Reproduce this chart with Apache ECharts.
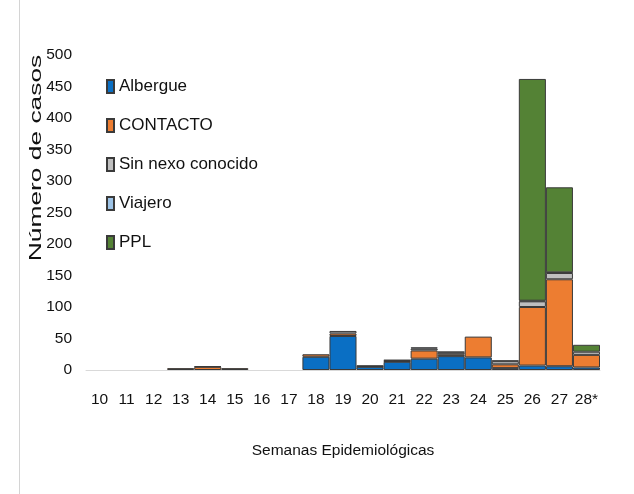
<!DOCTYPE html>
<html>
<head>
<meta charset="utf-8">
<script src="https://cdn.jsdelivr.net/npm/echarts@6/dist/echarts.min.js"></script>
<style>
  html, body { margin: 0; padding: 0; background: #fff; }
  #chart { width: 634px; height: 494px; }
</style>
</head>
<body>
<div id="chart"></div>
<script>
// Epidemiological weeks and weekly case counts by source of infection
const weeks = ['10','11','12','13','14','15','16','17','18','19','20','21','22','23','24','25','26','27','28*'];
const albergue  = [0,0,0,0,0,0,0,0,21,54,5,13,18,22,20,3,7,6,4];
const contacto  = [0,0,0,3,5,3,0,0,4,4,1,1,13,3,33,6,93,138,20];
const sinNexo   = [0,0,0,0,1,0,0,0,0,4,0,1,3,3,0,5,9,10,5];
const viajero   = [0,0,0,0,0,0,0,0,0,0,1,1,2,1,0,1,1,1,0];
const ppl       = [0,0,0,0,0,0,0,0,0,0,0,0,0,0,0,0,352,135,11];

const seriesDefs = [
  { name: 'Albergue', data: albergue, color: '#0a6fc4' },
  { name: 'CONTACTO', data: contacto, color: '#ed7d31' },
  { name: 'Sin nexo conocido', data: sinNexo, color: '#bfbfbf' },
  { name: 'Viajero', data: viajero, color: '#9dc3e6' },
  { name: 'PPL', data: ppl, color: '#548235' }
];

const FONT = '"Liberation Sans", Arial, sans-serif';
const TEXT = '#111111';

const chart = echarts.init(document.getElementById('chart'), null, { renderer: 'canvas' });

chart.setOption({
  animation: false,
  backgroundColor: '#ffffff',
  grid: { left: 86, right: 34, top: 55, bottom: 124, containLabel: false },
  legend: {
    orient: 'vertical',
    left: 101,
    top: 73,
    itemWidth: 7,
    itemHeight: 13,
    itemGap: 22,
    icon: 'rect',
    selectedMode: false,
    textStyle: { fontFamily: FONT, fontSize: 17, lineHeight: 17, color: TEXT },
    data: seriesDefs.map(s => s.name)
  },
  xAxis: {
    type: 'category',
    data: weeks,
    boundaryGap: true,
    axisTick: { show: false },
    axisLine: { lineStyle: { color: '#d9d9d9', width: 1 } },
    axisLabel: { interval: 0, margin: 22, fontFamily: FONT, fontSize: 15.5, color: TEXT },
    name: 'Semanas Epidemiológicas',
    nameLocation: 'middle',
    nameGap: 73,
    nameTextStyle: { fontFamily: FONT, fontSize: 15.5, color: TEXT }
  },
  yAxis: {
    type: 'value',
    min: 0,
    max: 500,
    interval: 50,
    axisLine: { show: false },
    axisTick: { show: false },
    splitLine: { show: false },
    axisLabel: { margin: 14, fontFamily: FONT, fontSize: 15.5, color: TEXT }
  },
  series: seriesDefs.map(s => ({
    name: s.name,
    type: 'bar',
    stack: 'casos',
    barCategoryGap: '0%',
    data: s.data.map(v => (v === 0 ? null : v)),
    itemStyle: { color: s.color, borderColor: '#3a3a3a', borderWidth: 1 },
    emphasis: { disabled: true }
  })),
  graphic: [
    {
      type: 'line',
      shape: { x1: 19.5, y1: 0, x2: 19.5, y2: 494 },
      style: { stroke: '#d4d4d4', lineWidth: 1 },
      silent: true
    },
    {
      type: 'text',
      x: 36,
      y: 158,
      rotation: Math.PI / 2,
      scaleX: 1.55,
      style: {
        text: 'Número de casos',
        fontFamily: FONT,
        fontSize: 17,
        fill: TEXT,
        textAlign: 'center',
        textVerticalAlign: 'middle'
      },
      silent: true
    }
  ]
});
</script>
</body>
</html>
